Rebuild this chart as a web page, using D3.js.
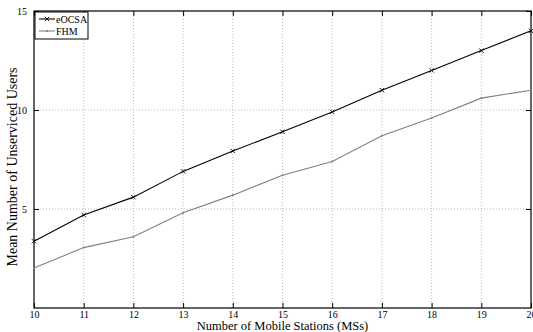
<!DOCTYPE html>
<html>
<head>
<meta charset="UTF-8">
<script src="https://d3js.org/d3.v7.min.js"></script>
<style>
  body { margin: 0; background: #fff; }
  svg { font-family: "Liberation Serif", "DejaVu Serif", serif; }
</style>
</head>
<body>
<svg id="chart" width="533" height="332"></svg>
<script>
const stations = [10, 11, 12, 13, 14, 15, 16, 17, 18, 19, 20];
const eocsa = [3.37, 4.7, 5.6, 6.9, 7.93, 8.9, 9.9, 11.0, 12.0, 13.0, 14.0];
const fhm = [2.02, 3.05, 3.6, 4.81, 5.7, 6.7, 7.4, 8.7, 9.6, 10.6, 11.0];
const yTicks = [5, 10, 15];

const margin = { left: 34, right: 2, top: 11, bottom: 24 };
const W = 533, H = 332;
const svg = d3.select('#chart');

const x = d3.scaleLinear().domain([10, 20]).range([margin.left, W - margin.right]);
const y = d3.scaleLinear().domain([0, 15]).range([H - margin.bottom, margin.top]);

const g = svg.append('g');

// grid
g.append('g').selectAll('line').data(stations.slice(1, -1)).join('line')
  .attr('x1', d => x(d)).attr('x2', d => x(d))
  .attr('y1', y(0)).attr('y2', y(15))
  .attr('stroke', '#aaa').attr('stroke-width', 0.8).attr('stroke-dasharray', '1,2');
g.append('g').selectAll('line').data(yTicks.slice(0, -1)).join('line')
  .attr('x1', x(10)).attr('x2', x(20))
  .attr('y1', d => y(d)).attr('y2', d => y(d))
  .attr('stroke', '#aaa').attr('stroke-width', 0.8).attr('stroke-dasharray', '1,2');

// axes with inward ticks
const xAxis = d3.axisBottom(x).tickValues(stations).tickSize(-5).tickPadding(3).tickFormat(d3.format('d'));
const xTop = d3.axisTop(x).tickValues(stations).tickSize(-5).tickFormat('');
const yAxis = d3.axisLeft(y).tickValues(yTicks).tickSize(-5).tickPadding(7);
const yRight = d3.axisRight(y).tickValues(yTicks).tickSize(-5).tickFormat('');

function style(sel) {
  sel.select('.domain').remove();
  sel.selectAll('line').attr('stroke', '#000');
  sel.selectAll('text').attr('font-size', 10).attr('fill', '#000')
    .attr('font-family', '"Liberation Serif", serif');
}
g.append('g').attr('transform', `translate(0,${y(0)})`).call(xAxis).call(style);
g.append('g').attr('transform', `translate(0,${y(15)})`).call(xTop).call(style);
g.append('g').attr('transform', `translate(${x(10)},0)`).call(yAxis).call(style);
g.append('g').attr('transform', `translate(${x(20)},0)`).call(yRight).call(style);

// frame
g.append('rect').attr('x', x(10)).attr('y', y(15))
  .attr('width', x(20) - x(10)).attr('height', y(0) - y(15))
  .attr('fill', 'none').attr('stroke', '#000').attr('stroke-width', 1.2);

const line = d3.line().x((d, i) => x(stations[i])).y(d => y(d));

// FHM
g.append('path').datum(fhm).attr('d', line)
  .attr('fill', 'none').attr('stroke', '#808080').attr('stroke-width', 1.1);
g.append('g').selectAll('circle').data(fhm).join('circle')
  .attr('cx', (d, i) => x(stations[i])).attr('cy', d => y(d)).attr('r', 1)
  .attr('fill', '#808080');

// eOCSA
g.append('path').datum(eocsa).attr('d', line)
  .attr('fill', 'none').attr('stroke', '#000').attr('stroke-width', 1.1);
const cross = d3.symbol().type(d3.symbolX).size(14);
g.append('g').selectAll('path').data(eocsa).join('path')
  .attr('transform', (d, i) => `translate(${x(stations[i])},${y(d)})`)
  .attr('d', cross).attr('fill', 'none').attr('stroke', '#000').attr('stroke-width', 0.9);

// legend
const lg = g.append('g').attr('transform', `translate(${x(10) + 1},${y(15) + 1})`);
lg.append('rect').attr('width', 53).attr('height', 27)
  .attr('fill', '#fff').attr('stroke', '#000').attr('stroke-width', 1);
const items = [
  { name: 'eOCSA', color: '#000', marker: 'x' },
  { name: 'FHM', color: '#808080', marker: 'dot' }
];
items.forEach((it, i) => {
  const yy = 7 + i * 12;
  lg.append('line').attr('x1', 4).attr('x2', 20).attr('y1', yy).attr('y2', yy)
    .attr('stroke', it.color).attr('stroke-width', 1.1);
  if (it.marker === 'x') {
    lg.append('path').attr('transform', `translate(12,${yy})`).attr('d', cross)
      .attr('fill', 'none').attr('stroke', it.color).attr('stroke-width', 0.9);
  } else {
    lg.append('circle').attr('cx', 12).attr('cy', yy).attr('r', 1).attr('fill', it.color);
  }
  lg.append('text').attr('x', 21).attr('y', yy + 3.5).attr('font-size', 10)
    .attr('fill', '#000').text(it.name);
});

// axis labels
svg.append('text').attr('x', (x(10) + x(20)) / 2).attr('y', 330)
  .attr('text-anchor', 'middle').attr('font-size', 12.5).text('Number of Mobile Stations (MSs)');
svg.append('text').attr('transform', `translate(17,167) rotate(-90)`)
  .attr('text-anchor', 'middle').attr('font-size', 14).text('Mean Number of Unserviced Users');
</script>
</body>
</html>
